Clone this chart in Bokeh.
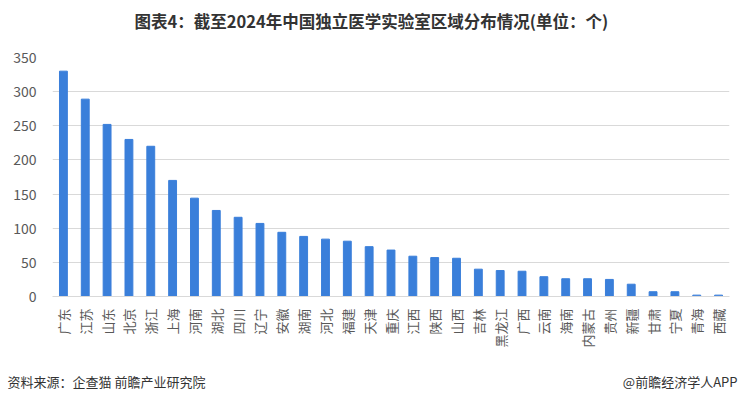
import math
from bokeh.plotting import figure
from bokeh.models import FixedTicker, Range1d
from bokeh.layouts import column
from bokeh.core.properties import value
from bokeh.embed import file_html
from bokeh.resources import INLINE

regions = ["广东", "江苏", "山东", "北京", "浙江", "上海", "河南", "湖北", "四川", "辽宁",
           "安徽", "湖南", "河北", "福建", "天津", "重庆", "江西", "陕西", "山西", "吉林",
           "黑龙江", "广西", "云南", "海南", "内蒙古", "贵州", "新疆", "甘肃", "宁夏", "青海", "西藏"]
counts = [330, 289, 252, 230, 220, 170, 144, 126, 116, 107,
          94, 88, 84, 81, 73, 68, 59, 57, 56, 40,
          38, 37, 29, 26, 26, 25, 18, 7, 7, 2, 2]
y_ticks = [0, 50, 100, 150, 200, 250, 300, 350]

title_text = "图表4：截至2024年中国独立医学实验室区域分布情况(单位：个)"
source_text = "资料来源：企查猫 前瞻产业研究院"
brand_text = "@前瞻经济学人APP"

FONT = "Noto Sans CJK SC"
W = 741
HEADER_H = 45
FOOTER_H = 30
MAIN_H = 400 - HEADER_H - FOOTER_H
LEFT = 52
RIGHT = 12


def text_strip(height):
    # the column aligns frames, so give the strip the same side borders as the
    # main chart and map data x one-to-one onto canvas pixels
    f = figure(width=W, height=height, x_range=Range1d(LEFT, W - RIGHT),
               y_range=Range1d(height, 0),
               output_backend="svg", toolbar_location=None,
               x_axis_location=None, y_axis_location=None,
               min_border_left=LEFT, min_border_right=RIGHT,
               min_border_top=0, min_border_bottom=0)
    f.grid.visible = False
    f.outline_line_color = None
    f.background_fill_color = "white"
    f.border_fill_color = "white"
    return f


# header with the title
header = text_strip(HEADER_H)
header.text(x=[134], y=[20], text=[title_text], text_font=value(FONT), text_font_style="bold",
            text_font_size="16.5px", text_color="#333333", text_align="left",
            text_baseline="middle", level="overlay")

# main chart
p = figure(width=W, height=MAIN_H, x_range=regions, y_range=(0, 350),
           output_backend="svg", toolbar_location=None,
           min_border_left=LEFT, min_border_right=RIGHT, min_border_top=57 - HEADER_H,
           min_border_bottom=(400 - FOOTER_H) - 296)
p.outline_line_color = None
p.background_fill_color = "white"
p.border_fill_color = "white"

p.vbar(x=regions, top=counts, width=0.36, color="#3A7FDA")

p.xgrid.grid_line_color = None
p.ygrid.grid_line_color = "#D9D9D9"
p.ygrid.grid_line_width = 1
p.yaxis.ticker = FixedTicker(ticks=y_ticks)
p.yaxis.axis_line_color = None
p.yaxis.major_tick_line_color = None
p.yaxis.minor_tick_line_color = None
p.yaxis.major_label_text_font = FONT
p.yaxis.major_label_text_font_size = "14px"
p.yaxis.major_label_text_color = "#595959"
p.yaxis.major_label_standoff = 10

p.xaxis.axis_line_color = "#D9D9D9"
p.xaxis.major_tick_line_color = None
p.xaxis.minor_tick_line_color = None
p.xaxis.major_label_orientation = math.pi / 2
p.xaxis.major_label_text_font = FONT
p.xaxis.major_label_text_font_size = "13px"
p.xaxis.major_label_text_color = "#595959"
p.xaxis.major_label_standoff = 6

# footer with source and brand
footer = text_strip(FOOTER_H)
footer.text(x=[7], y=[11], text=[source_text], text_font=value(FONT),
            text_font_size="13px", text_color="#333333", text_align="left",
            text_baseline="middle", level="overlay")
footer.text(x=[737], y=[11], text=[brand_text], text_font=value(FONT),
            text_font_size="13px", text_color="#333333", text_align="right",
            text_baseline="middle", level="overlay")

layout = column(header, p, footer, spacing=0)
open("out.html", "w").write(file_html(layout, INLINE))
